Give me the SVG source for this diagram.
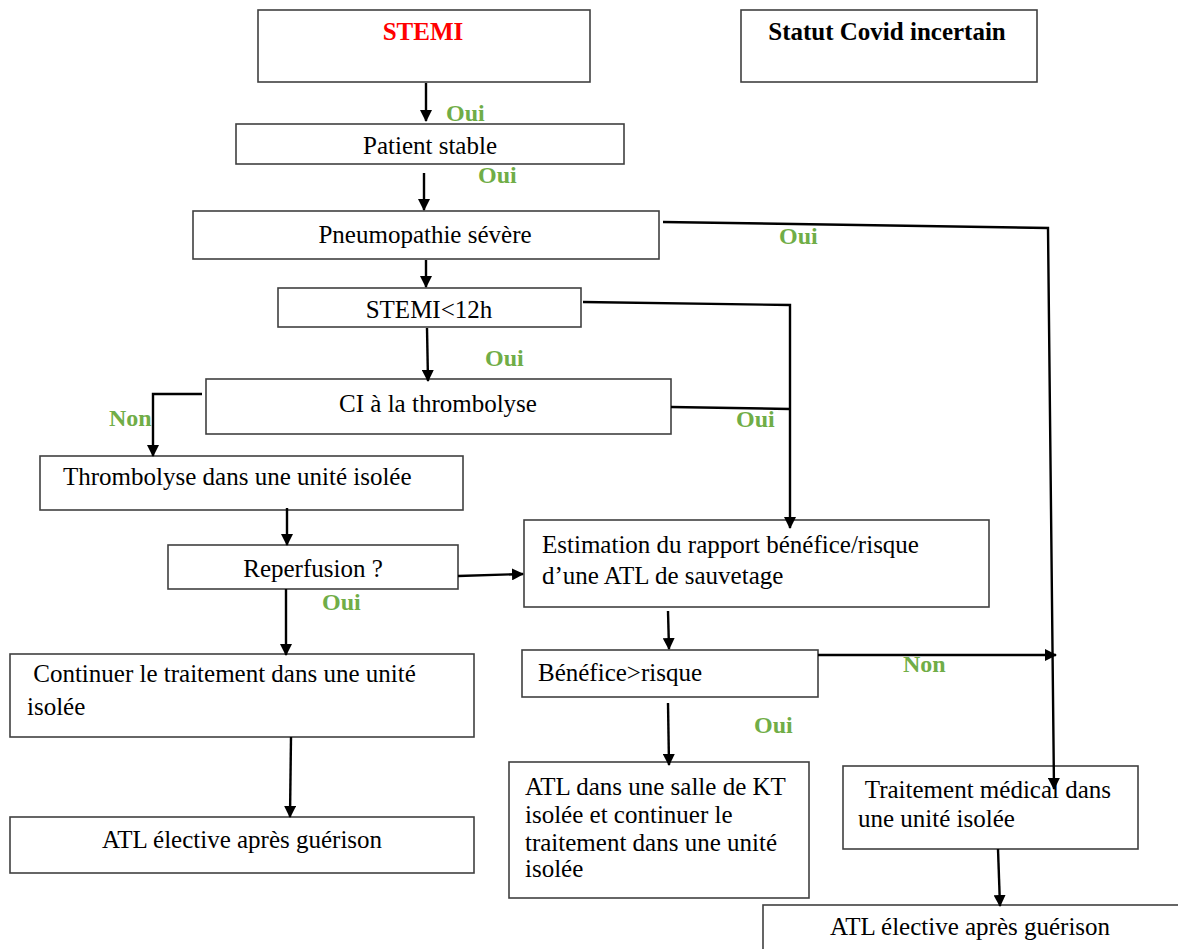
<svg xmlns="http://www.w3.org/2000/svg" width="1178" height="949" viewBox="0 0 1178 949">
  <defs>
    <marker id="arr" viewBox="0 0 12 12" refX="11" refY="6" markerWidth="12" markerHeight="12" markerUnits="userSpaceOnUse" orient="auto">
      <path d="M0,0 L12,6 L0,12 Z" fill="#000"/>
    </marker>
    <style>
      .box { fill: #fff; stroke: #404040; stroke-width: 1.6; }
      text { font-family: 'Liberation Serif', 'Times New Roman', Times, 'DejaVu Serif', serif; }
      .t { font-size: 25px; fill: #000; }
      .c { text-anchor: middle; }
      .b { font-weight: bold; }
      .lbl { font-size: 24px; font-weight: bold; fill: #70AD47; }
      .ln { fill: none; stroke: #000; stroke-width: 2.4; }
      .arw { marker-end: url(#arr); }
    </style>
  </defs>
  <rect width="1178" height="949" fill="#fff"/>

  <g id="stemi">
    <rect class="box" x="258" y="10" width="332" height="72"/>
    <text class="t c b" x="423" y="40" style="fill:#FF0000">STEMI</text>
  </g>

  <g id="covid">
    <rect class="box" x="741" y="10" width="296" height="72"/>
    <text class="t c b" x="887" y="40">Statut Covid incertain</text>
  </g>

  <g id="patient-stable">
    <rect class="box" x="236" y="124" width="388" height="40"/>
    <text class="t c" x="430" y="154">Patient stable</text>
  </g>

  <g id="pneumopathie">
    <rect class="box" x="193" y="211" width="466" height="48"/>
    <text class="t c" x="425" y="243">Pneumopathie sévère</text>
  </g>

  <g id="stemi-12h">
    <rect class="box" x="278" y="288" width="303" height="39"/>
    <text class="t c" x="429" y="318">STEMI&lt;12h</text>
  </g>

  <g id="ci-thrombolyse">
    <rect class="box" x="206" y="379" width="465" height="55"/>
    <text class="t c" x="438" y="412">CI à la thrombolyse</text>
  </g>

  <g id="thrombolyse">
    <rect class="box" x="40" y="456" width="423" height="54"/>
    <text class="t" x="63" y="485">Thrombolyse dans une unité isolée</text>
  </g>

  <g id="reperfusion">
    <rect class="box" x="168" y="545" width="290" height="44"/>
    <text class="t c" x="313" y="577">Reperfusion ?</text>
  </g>

  <g id="estimation">
    <rect class="box" x="524" y="520" width="465" height="87"/>
    <text class="t" x="542" y="553">Estimation du rapport bénéfice/risque</text>
    <text class="t" x="542" y="584">d’une ATL de sauvetage</text>
  </g>

  <g id="benefice">
    <rect class="box" x="522" y="650" width="296" height="47"/>
    <text class="t" x="538" y="681">Bénéfice&gt;risque</text>
  </g>

  <g id="continuer">
    <rect class="box" x="10" y="654" width="464" height="83"/>
    <text class="t" x="27" y="682" xml:space="preserve"> Continuer le traitement dans une unité</text>
    <text class="t" x="27" y="715">isolée</text>
  </g>

  <g id="atl-elective-left">
    <rect class="box" x="10" y="817" width="464" height="56"/>
    <text class="t c" x="242" y="848">ATL élective après guérison</text>
  </g>

  <g id="atl-kt">
    <rect class="box" x="509" y="762" width="300" height="136"/>
    <text class="t" x="525" y="795">ATL dans une salle de KT</text>
    <text class="t" x="525" y="823">isolée et continuer le</text>
    <text class="t" x="525" y="851">traitement dans une unité</text>
    <text class="t" x="525" y="877">isolée</text>
  </g>

  <g id="traitement-medical">
    <rect class="box" x="843" y="766" width="295" height="83"/>
    <text class="t" x="859" y="798" xml:space="preserve"> Traitement médical dans</text>
    <text class="t" x="858" y="827">une unité isolée</text>
  </g>

  <g id="atl-elective-right">
    <rect class="box" x="763" y="905" width="430" height="60"/>
    <text class="t c" x="970" y="935">ATL élective après guérison</text>
  </g>

  <!-- connectors, drawn over the boxes so arrow tips stay visible -->
  <g id="connectors">
    <path class="ln arw" d="M426,83 L426,121"/>
    <path class="ln arw" d="M424,173 L424,210"/>
    <path class="ln arw" d="M426,260 L426,287"/>
    <path class="ln arw" d="M427,328 L428,381"/>
    <path class="ln arw" d="M663,222 L1048,228 L1054,789"/>
    <path class="ln arw" d="M583,302 L790,305 L790,528"/>
    <path class="ln" d="M671,407 L790,409"/>
    <path class="ln arw" d="M202,394 L153,394 L153,456"/>
    <path class="ln arw" d="M287,508 L287,545"/>
    <path class="ln arw" d="M458,576 L523,574"/>
    <path class="ln arw" d="M286,589 L286,655"/>
    <path class="ln arw" d="M668,611 L669,649"/>
    <path class="ln arw" d="M818,655 L1056,655"/>
    <path class="ln arw" d="M668,703 L669,765"/>
    <path class="ln arw" d="M998,849 L1000,906"/>
    <path class="ln arw" d="M291,737 L290,817"/>
  </g>

  <!-- branch labels -->
  <g id="labels">
    <text class="lbl" x="446" y="121">Oui</text>
    <text class="lbl" x="478" y="183">Oui</text>
    <text class="lbl" x="779" y="244">Oui</text>
    <text class="lbl" x="485" y="366">Oui</text>
    <text class="lbl" x="736" y="427">Oui</text>
    <text class="lbl" x="109" y="426">Non</text>
    <text class="lbl" x="322" y="610">Oui</text>
    <text class="lbl" x="903" y="672">Non</text>
    <text class="lbl" x="754" y="733">Oui</text>
  </g>
</svg>
